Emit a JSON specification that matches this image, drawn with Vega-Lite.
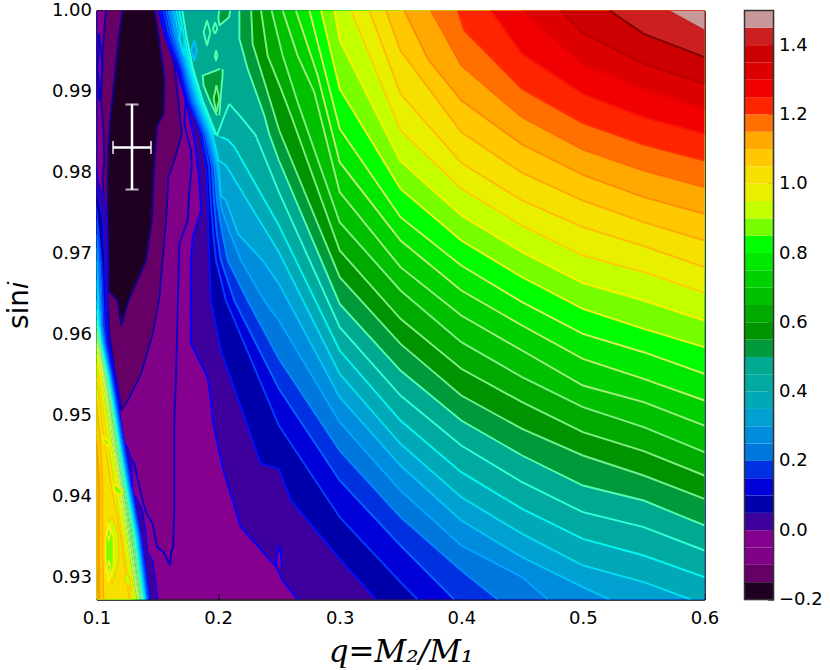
{
"$schema":"https://vega.github.io/schema/vega-lite/v6.json",
"description":"Contours of a fit statistic over mass ratio and inclination",
"padding":{"left":4.5,"top":1.5,"right":0,"bottom":0},
"background":"white",
"spacing":23,
"config":{"font":"DejaVu Sans","axis":{"grid":false,"labelFlush":false,"labelOverlap":false,"labelFont":"DejaVu Sans","labelFontSize":18,"labelColor":"#000","tickColor":"#000","domainColor":"#000","domainWidth":1.5,"tickWidth":1}},
"datasets":{
"low":[
{"id":"m10","level":"-0.10","edge":"-0.10","s":1.0,"q":0.1,"q2":0.1599},{"id":"m10","level":"-0.10","edge":"-0.10","s":0.993,"q":0.1,"q2":0.1668},{"id":"m10","level":"-0.10","edge":"-0.10","s":0.98971,"q":0.1,"q2":0.1736},{"id":"m10","level":"-0.10","edge":"-0.10","s":0.98600,"q":0.1,"q2":0.1723},{"id":"m10","level":"-0.10","edge":"-0.10","s":0.98271,"q":0.1,"q2":0.1777},{"id":"m10","level":"-0.10","edge":"-0.10","s":0.98065,"q":0.1,"q2":0.1783},{"id":"m10","level":"-0.10","edge":"-0.10","s":0.97777,"q":0.1,"q2":0.1764},{"id":"m10","level":"-0.10","edge":"-0.10","s":0.97407,"q":0.1,"q2":0.175},{"id":"m10","level":"-0.10","edge":"-0.10","s":0.97119,"q":0.1,"q2":0.1681},{"id":"m10","level":"-0.10","edge":"-0.10","s":0.95473,"q":0.1,"q2":0.1654},{"id":"m10","level":"-0.10","edge":"-0.10","s":0.94938,"q":0.1,"q2":0.164},{"id":"m10","level":"-0.10","edge":"-0.10","s":0.94671,"q":0.1202,"q2":0.164},{"id":"m10","level":"-0.10","edge":"-0.10","s":0.94403,"q":0.1311,"q2":0.164},{"id":"m10","level":"-0.10","edge":"-0.10","s":0.94032,"q":0.1366,"q2":0.164},{"id":"m10","level":"-0.10","edge":"-0.10","s":0.93806,"q":0.1407,"q2":0.164},{"id":"m10","level":"-0.10","edge":"-0.10","s":0.93662,"q":0.1462,"q2":0.1636},{"id":"m10","level":"-0.10","edge":"-0.10","s":0.93375,"q":0.1498,"q2":0.163},{"id":"m10","level":"-0.10","edge":"-0.10","s":0.93312,"q":0.1553,"q2":0.1613},{"id":"m10","level":"-0.10","edge":"-0.10","s":0.93148,"q":0.1605,"q2":0.1605},
{"id":"m15","level":"-0.15","edge":"-0.15","s":1.0,"q":0.1078,"q2":0.1544},{"id":"m15","level":"-0.15","edge":"-0.15","s":0.99506,"q":0.1051,"q2":0.1627},{"id":"m15","level":"-0.15","edge":"-0.15","s":0.98888,"q":0.1037,"q2":0.1673},{"id":"m15","level":"-0.15","edge":"-0.15","s":0.98477,"q":0.1059,"q2":0.1701},{"id":"m15","level":"-0.15","edge":"-0.15","s":0.98148,"q":0.1065,"q2":0.164},{"id":"m15","level":"-0.15","edge":"-0.15","s":0.97942,"q":0.1051,"q2":0.1591},{"id":"m15","level":"-0.15","edge":"-0.15","s":0.97407,"q":0.1065,"q2":0.1572},{"id":"m15","level":"-0.15","edge":"-0.15","s":0.96460,"q":0.1092,"q2":0.1517},{"id":"m15","level":"-0.15","edge":"-0.15","s":0.96008,"q":0.1106,"q2":0.1462},{"id":"m15","level":"-0.15","edge":"-0.15","s":0.95514,"q":0.1152,"q2":0.1366},{"id":"m15","level":"-0.15","edge":"-0.15","s":0.95185,"q":0.1196,"q2":0.1257},{"id":"m15","level":"-0.15","edge":"-0.15","s":0.95062,"q":0.1202,"q2":0.1202},
{"id":"m20","level":"-0.20","edge":"-0.20","s":1.0,"q":0.1215,"q2":0.1476},{"id":"m20","level":"-0.20","edge":"-0.20","s":0.99629,"q":0.118,"q2":0.1517},{"id":"m20","level":"-0.20","edge":"-0.20","s":0.99135,"q":0.1147,"q2":0.1558},{"id":"m20","level":"-0.20","edge":"-0.20","s":0.98724,"q":0.1119,"q2":0.1553},{"id":"m20","level":"-0.20","edge":"-0.20","s":0.98580,"q":0.1111,"q2":0.1498},{"id":"m20","level":"-0.20","edge":"-0.20","s":0.98148,"q":0.1092,"q2":0.1476},{"id":"m20","level":"-0.20","edge":"-0.20","s":0.97407,"q":0.1092,"q2":0.1454},{"id":"m20","level":"-0.20","edge":"-0.20","s":0.96913,"q":0.1098,"q2":0.1407},{"id":"m20","level":"-0.20","edge":"-0.20","s":0.96543,"q":0.1098,"q2":0.1298},{"id":"m20","level":"-0.20","edge":"-0.20","s":0.96419,"q":0.1174,"q2":0.1262},{"id":"m20","level":"-0.20","edge":"-0.20","s":0.96111,"q":0.1202,"q2":0.1202},
{"id":"ell","level":"-0.10","edge":"-0.10","s":0.99712,"q":0.102,"q2":0.102},{"id":"ell","level":"-0.10","edge":"-0.10","s":0.993,"q":0.101,"q2":0.1051},{"id":"ell","level":"-0.10","edge":"-0.10","s":0.98888,"q":0.102,"q2":0.102}
],
"main":[
{"level":"0.00","s":1.0,"q":0.151},{"level":"0.00","s":0.99712,"q":0.1558},{"level":"0.00","s":0.993,"q":0.1654},{"level":"0.00","s":0.98888,"q":0.1736},{"level":"0.00","s":0.98403,"q":0.1805},{"level":"0.00","s":0.97901,"q":0.1846},{"level":"0.00","s":0.9753,"q":0.186},{"level":"0.00","s":0.97201,"q":0.1791},{"level":"0.00","s":0.96913,"q":0.1777},{"level":"0.00","s":0.95884,"q":0.1777},{"level":"0.00","s":0.95473,"q":0.1914},{"level":"0.00","s":0.95185,"q":0.1941},{"level":"0.00","s":0.94938,"q":0.1956},{"level":"0.00","s":0.94362,"q":0.2037},{"level":"0.00","s":0.9395,"q":0.2119},{"level":"0.00","s":0.93621,"q":0.2188},{"level":"0.00","s":0.9323,"q":0.2421},{"level":"0.00","s":0.93127,"q":0.248},{"level":"0.00","s":0.92963,"q":0.2531},{"level":"0.00","s":0.92728,"q":0.2654},
{"level":"0.05","s":1.0,"q":0.1527},{"level":"0.05","s":0.99712,"q":0.1572},{"level":"0.05","s":0.993,"q":0.1681},{"level":"0.05","s":0.98888,"q":0.175},{"level":"0.05","s":0.98477,"q":0.186},{"level":"0.05","s":0.98065,"q":0.1901},{"level":"0.05","s":0.97654,"q":0.1915},{"level":"0.05","s":0.97242,"q":0.192},{"level":"0.05","s":0.96913,"q":0.1928},{"level":"0.05","s":0.96419,"q":0.1941},{"level":"0.05","s":0.95802,"q":0.2023},{"level":"0.05","s":0.94403,"q":0.2352},{"level":"0.05","s":0.94341,"q":0.25},{"level":"0.05","s":0.9395,"q":0.2599},{"level":"0.05","s":0.9323,"q":0.3},{"level":"0.05","s":0.92728,"q":0.3298},
{"level":"0.10","s":1.0,"q":0.1549},{"level":"0.10","s":0.99712,"q":0.1593},{"level":"0.10","s":0.993,"q":0.1695},{"level":"0.10","s":0.98888,"q":0.1765},{"level":"0.10","s":0.98477,"q":0.1875},{"level":"0.10","s":0.98065,"q":0.1925},{"level":"0.10","s":0.97654,"q":0.194},{"level":"0.10","s":0.97242,"q":0.196},{"level":"0.10","s":0.96913,"q":0.1983},{"level":"0.10","s":0.96419,"q":0.2065},{"level":"0.10","s":0.94876,"q":0.25},{"level":"0.10","s":0.93745,"q":0.3},{"level":"0.10","s":0.92942,"q":0.35},{"level":"0.10","s":0.92728,"q":0.3641},
{"level":"0.15","s":1.0,"q":0.1571},{"level":"0.15","s":0.99712,"q":0.1613},{"level":"0.15","s":0.993,"q":0.1709},{"level":"0.15","s":0.98888,"q":0.1781},{"level":"0.15","s":0.98477,"q":0.1891},{"level":"0.15","s":0.98065,"q":0.195},{"level":"0.15","s":0.97654,"q":0.1965},{"level":"0.15","s":0.97242,"q":0.199},{"level":"0.15","s":0.96913,"q":0.2024},{"level":"0.15","s":0.96419,"q":0.2133},{"level":"0.15","s":0.95329,"q":0.25},{"level":"0.15","s":0.94197,"q":0.3},{"level":"0.15","s":0.93395,"q":0.35},{"level":"0.15","s":0.92728,"q":0.3942},
{"level":"0.20","s":1.0,"q":0.1592},{"level":"0.20","s":0.99712,"q":0.1634},{"level":"0.20","s":0.993,"q":0.1722},{"level":"0.20","s":0.98888,"q":0.1796},{"level":"0.20","s":0.98477,"q":0.1906},{"level":"0.20","s":0.98065,"q":0.197},{"level":"0.20","s":0.97654,"q":0.199},{"level":"0.20","s":0.97242,"q":0.2035},{"level":"0.20","s":0.96913,"q":0.2079},{"level":"0.20","s":0.96419,"q":0.2243},{"level":"0.20","s":0.95699,"q":0.25},{"level":"0.20","s":0.94567,"q":0.3},{"level":"0.20","s":0.93745,"q":0.35},{"level":"0.20","s":0.93086,"q":0.4},{"level":"0.20","s":0.92728,"q":0.4299},
{"level":"0.25","s":1.0,"q":0.1614},{"level":"0.25","s":0.99712,"q":0.1654},{"level":"0.25","s":0.993,"q":0.1736},{"level":"0.25","s":0.98888,"q":0.1812},{"level":"0.25","s":0.98477,"q":0.1922},{"level":"0.25","s":0.98065,"q":0.199},{"level":"0.25","s":0.97572,"q":0.2024},{"level":"0.25","s":0.97242,"q":0.21},{"level":"0.25","s":0.96913,"q":0.2189},{"level":"0.25","s":0.96419,"q":0.238},{"level":"0.25","s":0.96172,"q":0.25},{"level":"0.25","s":0.94917,"q":0.3},{"level":"0.25","s":0.94074,"q":0.35},{"level":"0.25","s":0.93395,"q":0.4},{"level":"0.25","s":0.93004,"q":0.45},{"level":"0.25","s":0.92728,"q":0.471},
{"level":"0.30","s":1.0,"q":0.1636},{"level":"0.30","s":0.99712,"q":0.1675},{"level":"0.30","s":0.993,"q":0.175},{"level":"0.30","s":0.98888,"q":0.1827},{"level":"0.30","s":0.98477,"q":0.1937},{"level":"0.30","s":0.98065,"q":0.2005},{"level":"0.30","s":0.97716,"q":0.2024},{"level":"0.30","s":0.97654,"q":0.2065},{"level":"0.30","s":0.97242,"q":0.2165},{"level":"0.30","s":0.96913,"q":0.2367},{"level":"0.30","s":0.96625,"q":0.25},{"level":"0.30","s":0.95226,"q":0.3},{"level":"0.30","s":0.94382,"q":0.35},{"level":"0.30","s":0.93703,"q":0.4},{"level":"0.30","s":0.93251,"q":0.45},{"level":"0.30","s":0.9288,"q":0.5},{"level":"0.30","s":0.92728,"q":0.5217},
{"level":"0.35","s":1.0,"q":0.1659},{"level":"0.35","s":0.99712,"q":0.1695},{"level":"0.35","s":0.993,"q":0.1764},{"level":"0.35","s":0.98888,"q":0.1842},{"level":"0.35","s":0.98477,"q":0.1952},{"level":"0.35","s":0.98148,"q":0.2005},{"level":"0.35","s":0.98086,"q":0.2065},{"level":"0.35","s":0.97654,"q":0.224},{"level":"0.35","s":0.97016,"q":0.25},{"level":"0.35","s":0.95514,"q":0.3},{"level":"0.35","s":0.9465,"q":0.35},{"level":"0.35","s":0.93991,"q":0.4},{"level":"0.35","s":0.93539,"q":0.45},{"level":"0.35","s":0.93148,"q":0.5},{"level":"0.35","s":0.92942,"q":0.55},{"level":"0.35","s":0.92728,"q":0.5889},
{"level":"0.40","s":1.0,"q":0.1681},{"level":"0.40","s":0.99712,"q":0.1716},{"level":"0.40","s":0.993,"q":0.1777},{"level":"0.40","s":0.98888,"q":0.1858},{"level":"0.40","s":0.98477,"q":0.1968},{"level":"0.40","s":0.98403,"q":0.2079},{"level":"0.40","s":0.98312,"q":0.2136},{"level":"0.40","s":0.97345,"q":0.25},{"level":"0.40","s":0.95802,"q":0.3},{"level":"0.40","s":0.94938,"q":0.35},{"level":"0.40","s":0.943,"q":0.4},{"level":"0.40","s":0.93847,"q":0.45},{"level":"0.40","s":0.93477,"q":0.5},{"level":"0.40","s":0.93271,"q":0.55},{"level":"0.40","s":0.93004,"q":0.6},
{"level":"0.45","s":1.0,"q":0.1705},{"level":"0.45","s":0.99712,"q":0.1736},{"level":"0.45","s":0.993,"q":0.1791},{"level":"0.45","s":0.98888,"q":0.1873},{"level":"0.45","s":0.98477,"q":0.1983},{"level":"0.45","s":0.98456,"q":0.231},{"level":"0.45","s":0.97757,"q":0.25},{"level":"0.45","s":0.9609,"q":0.3},{"level":"0.45","s":0.95246,"q":0.35},{"level":"0.45","s":0.94629,"q":0.4},{"level":"0.45","s":0.94176,"q":0.45},{"level":"0.45","s":0.93806,"q":0.5},{"level":"0.45","s":0.93621,"q":0.55},{"level":"0.45","s":0.93333,"q":0.6},
{"level":"0.50","s":1.0,"q":0.2175},{"level":"0.50","s":0.9965,"q":0.2175},{"level":"0.50","s":0.99279,"q":0.2243},{"level":"0.50","s":0.98703,"q":0.238},{"level":"0.50","s":0.98477,"q":0.242},{"level":"0.50","s":0.98148,"q":0.25},{"level":"0.50","s":0.96378,"q":0.3},{"level":"0.50","s":0.95555,"q":0.35},{"level":"0.50","s":0.94938,"q":0.4},{"level":"0.50","s":0.94506,"q":0.45},{"level":"0.50","s":0.94135,"q":0.5},{"level":"0.50","s":0.9395,"q":0.55},{"level":"0.50","s":0.93642,"q":0.6},
{"level":"0.55","s":1.0,"q":0.2272},{"level":"0.55","s":0.99588,"q":0.2284},{"level":"0.55","s":0.99053,"q":0.2394},{"level":"0.55","s":0.98518,"q":0.2503},{"level":"0.55","s":0.96707,"q":0.3},{"level":"0.55","s":0.95884,"q":0.35},{"level":"0.55","s":0.95246,"q":0.4},{"level":"0.55","s":0.94835,"q":0.45},{"level":"0.55","s":0.94506,"q":0.5},{"level":"0.55","s":0.94259,"q":0.55},{"level":"0.55","s":0.93971,"q":0.6},
{"level":"0.60","s":1.0,"q":0.2353},{"level":"0.60","s":0.99444,"q":0.2407},{"level":"0.60","s":0.99032,"q":0.2517},{"level":"0.60","s":0.98703,"q":0.26},{"level":"0.60","s":0.97037,"q":0.3},{"level":"0.60","s":0.96193,"q":0.35},{"level":"0.60","s":0.95576,"q":0.4},{"level":"0.60","s":0.95164,"q":0.45},{"level":"0.60","s":0.94794,"q":0.5},{"level":"0.60","s":0.94559,"q":0.55},{"level":"0.60","s":0.94259,"q":0.6},
{"level":"0.65","s":1.0,"q":0.244},{"level":"0.65","s":0.99444,"q":0.2531},{"level":"0.65","s":0.98868,"q":0.2654},{"level":"0.65","s":0.97386,"q":0.3},{"level":"0.65","s":0.96543,"q":0.35},{"level":"0.65","s":0.95905,"q":0.4},{"level":"0.65","s":0.95473,"q":0.45},{"level":"0.65","s":0.95103,"q":0.5},{"level":"0.65","s":0.94855,"q":0.55},{"level":"0.65","s":0.94547,"q":0.6},
{"level":"0.70","s":1.0,"q":0.2531},{"level":"0.70","s":0.99444,"q":0.2654},{"level":"0.70","s":0.98991,"q":0.2791},{"level":"0.70","s":0.97757,"q":0.3},{"level":"0.70","s":0.96831,"q":0.35},{"level":"0.70","s":0.96234,"q":0.4},{"level":"0.70","s":0.95802,"q":0.45},{"level":"0.70","s":0.9537,"q":0.5},{"level":"0.70","s":0.95164,"q":0.55},{"level":"0.70","s":0.94876,"q":0.6},
{"level":"0.75","s":1.0,"q":0.264},{"level":"0.75","s":0.99197,"q":0.2819},{"level":"0.75","s":0.98127,"q":0.3},{"level":"0.75","s":0.9716,"q":0.35},{"level":"0.75","s":0.96543,"q":0.4},{"level":"0.75","s":0.96111,"q":0.45},{"level":"0.75","s":0.95699,"q":0.5},{"level":"0.75","s":0.95452,"q":0.55},{"level":"0.75","s":0.95185,"q":0.6},
{"level":"0.80","s":1.0,"q":0.2751},{"level":"0.80","s":0.98539,"q":0.3},{"level":"0.80","s":0.97448,"q":0.35},{"level":"0.80","s":0.96851,"q":0.4},{"level":"0.80","s":0.96399,"q":0.45},{"level":"0.80","s":0.96008,"q":0.5},{"level":"0.80","s":0.95781,"q":0.55},{"level":"0.80","s":0.95514,"q":0.6},
{"level":"0.85","s":1.0,"q":0.2846},{"level":"0.85","s":0.99032,"q":0.3},{"level":"0.85","s":0.97798,"q":0.35},{"level":"0.85","s":0.9716,"q":0.4},{"level":"0.85","s":0.96707,"q":0.45},{"level":"0.85","s":0.96317,"q":0.5},{"level":"0.85","s":0.96069,"q":0.55},{"level":"0.85","s":0.95843,"q":0.6},
{"level":"0.90","s":1.0,"q":0.2956},{"level":"0.90","s":0.99629,"q":0.3},{"level":"0.90","s":0.98139,"q":0.35},{"level":"0.90","s":0.97469,"q":0.4},{"level":"0.90","s":0.97016,"q":0.45},{"level":"0.90","s":0.96633,"q":0.5},{"level":"0.90","s":0.96419,"q":0.55},{"level":"0.90","s":0.96172,"q":0.6},
{"level":"0.95","s":1.0,"q":0.3093},{"level":"0.95","s":0.98518,"q":0.35},{"level":"0.95","s":0.97798,"q":0.4},{"level":"0.95","s":0.97345,"q":0.45},{"level":"0.95","s":0.96975,"q":0.5},{"level":"0.95","s":0.96769,"q":0.55},{"level":"0.95","s":0.96514,"q":0.6},
{"level":"1.00","s":1.0,"q":0.3244},{"level":"1.00","s":0.98971,"q":0.35},{"level":"1.00","s":0.98119,"q":0.4},{"level":"1.00","s":0.97654,"q":0.45},{"level":"1.00","s":0.97325,"q":0.5},{"level":"1.00","s":0.9709,"q":0.55},{"level":"1.00","s":0.96831,"q":0.6},
{"level":"1.05","s":1.0,"q":0.3381},{"level":"1.05","s":0.99506,"q":0.35},{"level":"1.05","s":0.98498,"q":0.4},{"level":"1.05","s":0.97995,"q":0.45},{"level":"1.05","s":0.97654,"q":0.5},{"level":"1.05","s":0.97386,"q":0.55},{"level":"1.05","s":0.9716,"q":0.6},
{"level":"1.10","s":1.0,"q":0.3532},{"level":"1.10","s":0.99403,"q":0.3724},{"level":"1.10","s":0.98888,"q":0.4},{"level":"1.10","s":0.98345,"q":0.45},{"level":"1.10","s":0.97971,"q":0.5},{"level":"1.10","s":0.97695,"q":0.55},{"level":"1.10","s":0.97489,"q":0.6},
{"level":"1.15","s":1.0,"q":0.3751},{"level":"1.15","s":0.99321,"q":0.4},{"level":"1.15","s":0.98683,"q":0.45},{"level":"1.15","s":0.98283,"q":0.5},{"level":"1.15","s":0.98024,"q":0.55},{"level":"1.15","s":0.97819,"q":0.6},
{"level":"1.20","s":1.0,"q":0.397},{"level":"1.20","s":0.99753,"q":0.4025},{"level":"1.20","s":0.99032,"q":0.45},{"level":"1.20","s":0.98609,"q":0.5},{"level":"1.20","s":0.98345,"q":0.55},{"level":"1.20","s":0.98148,"q":0.6},
{"level":"1.25","s":1.0,"q":0.4245},{"level":"1.25","s":0.99465,"q":0.45},{"level":"1.25","s":0.98971,"q":0.5},{"level":"1.25","s":0.98683,"q":0.55},{"level":"1.25","s":0.98477,"q":0.6},
{"level":"1.30","s":1.0,"q":0.4505},{"level":"1.30","s":0.99321,"q":0.5},{"level":"1.30","s":0.99032,"q":0.55},{"level":"1.30","s":0.98786,"q":0.6},
{"level":"1.35","s":1.0,"q":0.482},{"level":"1.35","s":0.99724,"q":0.5},{"level":"1.35","s":0.99341,"q":0.55},{"level":"1.35","s":0.99094,"q":0.6},
{"level":"1.40","s":1.0,"q":0.5218},{"level":"1.40","s":0.99712,"q":0.55},{"level":"1.40","s":0.99423,"q":0.6},
{"level":"1.45","s":1.0,"q":0.5698},{"level":"1.45","s":0.99753,"q":0.6}
],
"strip":[
{"level":"0.00","s":0.98065,"q":0.1},{"level":"0.00","s":0.97901,"q":0.101},{"level":"0.00","s":0.97654,"q":0.1065},{"level":"0.00","s":0.97407,"q":0.1087},{"level":"0.00","s":0.96831,"q":0.1092},{"level":"0.00","s":0.96111,"q":0.1092},{"level":"0.00","s":0.95884,"q":0.1106},{"level":"0.00","s":0.95473,"q":0.1152},{"level":"0.00","s":0.95185,"q":0.1188},{"level":"0.00","s":0.94691,"q":0.1196},{"level":"0.00","s":0.94609,"q":0.1257},{"level":"0.00","s":0.94424,"q":0.1292},{"level":"0.00","s":0.94032,"q":0.1298},{"level":"0.00","s":0.93991,"q":0.1325},{"level":"0.00","s":0.93827,"q":0.138},{"level":"0.00","s":0.93539,"q":0.1407},{"level":"0.00","s":0.93312,"q":0.1421},{"level":"0.00","s":0.9321,"q":0.1462},{"level":"0.00","s":0.92922,"q":0.149},{"level":"0.00","s":0.92728,"q":0.1503},
{"level":"0.05","s":0.97819,"q":0.1},{"level":"0.05","s":0.97407,"q":0.1051},{"level":"0.05","s":0.96831,"q":0.107},{"level":"0.05","s":0.96111,"q":0.1078},{"level":"0.05","s":0.95884,"q":0.1092},{"level":"0.05","s":0.95473,"q":0.1141},{"level":"0.05","s":0.95185,"q":0.1174},{"level":"0.05","s":0.94691,"q":0.1229},{"level":"0.05","s":0.94156,"q":0.1289},{"level":"0.05","s":0.93539,"q":0.1366},{"level":"0.05","s":0.92728,"q":0.1443},
{"level":"0.10","s":0.97572,"q":0.1},{"level":"0.10","s":0.96831,"q":0.1045},{"level":"0.10","s":0.96111,"q":0.1065},{"level":"0.10","s":0.95884,"q":0.1081},{"level":"0.10","s":0.95473,"q":0.1133},{"level":"0.10","s":0.95185,"q":0.1166},{"level":"0.10","s":0.94691,"q":0.1221},{"level":"0.10","s":0.94156,"q":0.1281},{"level":"0.10","s":0.93539,"q":0.1358},{"level":"0.10","s":0.92728,"q":0.1432},
{"level":"0.15","s":0.97407,"q":0.1},{"level":"0.15","s":0.96831,"q":0.1034},{"level":"0.15","s":0.96111,"q":0.1054},{"level":"0.15","s":0.95884,"q":0.1073},{"level":"0.15","s":0.95473,"q":0.1125},{"level":"0.15","s":0.95185,"q":0.1158},{"level":"0.15","s":0.94691,"q":0.1213},{"level":"0.15","s":0.94156,"q":0.1273},{"level":"0.15","s":0.93539,"q":0.135},{"level":"0.15","s":0.92728,"q":0.1421},
{"level":"0.20","s":0.97242,"q":0.1},{"level":"0.20","s":0.96831,"q":0.1024},{"level":"0.20","s":0.96111,"q":0.1045},{"level":"0.20","s":0.95884,"q":0.1065},{"level":"0.20","s":0.95473,"q":0.1119},{"level":"0.20","s":0.95185,"q":0.1152},{"level":"0.20","s":0.94691,"q":0.1204},{"level":"0.20","s":0.94156,"q":0.1265},{"level":"0.20","s":0.93539,"q":0.1342},{"level":"0.20","s":0.92728,"q":0.1413},
{"level":"0.25","s":0.97078,"q":0.1},{"level":"0.25","s":0.96111,"q":0.1037},{"level":"0.25","s":0.95884,"q":0.1056},{"level":"0.25","s":0.95473,"q":0.1114},{"level":"0.25","s":0.95185,"q":0.1147},{"level":"0.25","s":0.94691,"q":0.1199},{"level":"0.25","s":0.94156,"q":0.1259},{"level":"0.25","s":0.93539,"q":0.1336},{"level":"0.25","s":0.92728,"q":0.1407},
{"level":"0.30","s":0.96913,"q":0.1},{"level":"0.30","s":0.96111,"q":0.1029},{"level":"0.30","s":0.95884,"q":0.1051},{"level":"0.30","s":0.95473,"q":0.1109},{"level":"0.30","s":0.95185,"q":0.1141},{"level":"0.30","s":0.94691,"q":0.1193},{"level":"0.30","s":0.94156,"q":0.1254},{"level":"0.30","s":0.93539,"q":0.1331},{"level":"0.30","s":0.92728,"q":0.1402},
{"level":"0.35","s":0.96666,"q":0.1},{"level":"0.35","s":0.96111,"q":0.1024},{"level":"0.35","s":0.95884,"q":0.1045},{"level":"0.35","s":0.95473,"q":0.1103},{"level":"0.35","s":0.95185,"q":0.1136},{"level":"0.35","s":0.94691,"q":0.1188},{"level":"0.35","s":0.94156,"q":0.1248},{"level":"0.35","s":0.93539,"q":0.1325},{"level":"0.35","s":0.92728,"q":0.1396},
{"level":"0.40","s":0.96419,"q":0.1},{"level":"0.40","s":0.96111,"q":0.1018},{"level":"0.40","s":0.95884,"q":0.104},{"level":"0.40","s":0.95473,"q":0.1098},{"level":"0.40","s":0.95185,"q":0.113},{"level":"0.40","s":0.94691,"q":0.1183},{"level":"0.40","s":0.94156,"q":0.1243},{"level":"0.40","s":0.93539,"q":0.1317},{"level":"0.40","s":0.92728,"q":0.1388},
{"level":"0.45","s":0.96296,"q":0.1},{"level":"0.45","s":0.96111,"q":0.1013},{"level":"0.45","s":0.95884,"q":0.1035},{"level":"0.45","s":0.95473,"q":0.1092},{"level":"0.45","s":0.95185,"q":0.1125},{"level":"0.45","s":0.94691,"q":0.1177},{"level":"0.45","s":0.94156,"q":0.1237},{"level":"0.45","s":0.93539,"q":0.1311},{"level":"0.45","s":0.92728,"q":0.1383},
{"level":"0.50","s":0.96172,"q":0.1},{"level":"0.50","s":0.95884,"q":0.1029},{"level":"0.50","s":0.95473,"q":0.1087},{"level":"0.50","s":0.95185,"q":0.1119},{"level":"0.50","s":0.94691,"q":0.1172},{"level":"0.50","s":0.94156,"q":0.1229},{"level":"0.50","s":0.93539,"q":0.1306},{"level":"0.50","s":0.92728,"q":0.1377},
{"level":"0.55","s":0.96111,"q":0.1},{"level":"0.55","s":0.95884,"q":0.1024},{"level":"0.55","s":0.95473,"q":0.1081},{"level":"0.55","s":0.95185,"q":0.1114},{"level":"0.55","s":0.94691,"q":0.1166},{"level":"0.55","s":0.94156,"q":0.1221},{"level":"0.55","s":0.93539,"q":0.1298},{"level":"0.55","s":0.92728,"q":0.1372},
{"level":"0.60","s":0.96049,"q":0.1},{"level":"0.60","s":0.95884,"q":0.1021},{"level":"0.60","s":0.95473,"q":0.1076},{"level":"0.60","s":0.95185,"q":0.1109},{"level":"0.60","s":0.94691,"q":0.1161},{"level":"0.60","s":0.94156,"q":0.1215},{"level":"0.60","s":0.93539,"q":0.1289},{"level":"0.60","s":0.92728,"q":0.1366},
{"level":"0.65","s":0.96008,"q":0.1},{"level":"0.65","s":0.95884,"q":0.1015},{"level":"0.65","s":0.95473,"q":0.107},{"level":"0.65","s":0.95185,"q":0.11},{"level":"0.65","s":0.94691,"q":0.1152},{"level":"0.65","s":0.94156,"q":0.1207},{"level":"0.65","s":0.93539,"q":0.1278},{"level":"0.65","s":0.92728,"q":0.1358},
{"level":"0.70","s":0.95967,"q":0.1},{"level":"0.70","s":0.95884,"q":0.1013},{"level":"0.70","s":0.95473,"q":0.1065},{"level":"0.70","s":0.95185,"q":0.1095},{"level":"0.70","s":0.94691,"q":0.1147},{"level":"0.70","s":0.94156,"q":0.1202},{"level":"0.70","s":0.93539,"q":0.127},{"level":"0.70","s":0.92728,"q":0.1352},
{"level":"0.75","s":0.95925,"q":0.1},{"level":"0.75","s":0.95884,"q":0.1007},{"level":"0.75","s":0.95473,"q":0.1059},{"level":"0.75","s":0.95185,"q":0.1089},{"level":"0.75","s":0.94691,"q":0.1139},{"level":"0.75","s":0.94156,"q":0.1193},{"level":"0.75","s":0.93539,"q":0.1259},{"level":"0.75","s":0.92728,"q":0.1344},
{"level":"0.80","s":0.95884,"q":0.1},{"level":"0.80","s":0.95473,"q":0.1054},{"level":"0.80","s":0.95185,"q":0.1084},{"level":"0.80","s":0.94691,"q":0.113},{"level":"0.80","s":0.94156,"q":0.1188},{"level":"0.80","s":0.93539,"q":0.1251},{"level":"0.80","s":0.92728,"q":0.1339},
{"level":"0.85","s":0.95843,"q":0.1},{"level":"0.85","s":0.95473,"q":0.1045},{"level":"0.85","s":0.95185,"q":0.1073},{"level":"0.85","s":0.94691,"q":0.1119},{"level":"0.85","s":0.94156,"q":0.118},{"level":"0.85","s":0.93539,"q":0.124},{"level":"0.85","s":0.92728,"q":0.1325},
{"level":"0.90","s":0.95761,"q":0.1},{"level":"0.90","s":0.95473,"q":0.1037},{"level":"0.90","s":0.95185,"q":0.1059},{"level":"0.90","s":0.94691,"q":0.1106},{"level":"0.90","s":0.94156,"q":0.1169},{"level":"0.90","s":0.93539,"q":0.1229},{"level":"0.90","s":0.92728,"q":0.1311},
{"level":"0.95","s":0.95637,"q":0.1},{"level":"0.95","s":0.95473,"q":0.1021},{"level":"0.95","s":0.95185,"q":0.1043},{"level":"0.95","s":0.94691,"q":0.1087},{"level":"0.95","s":0.94156,"q":0.1147},{"level":"0.95","s":0.93539,"q":0.1207},{"level":"0.95","s":0.92728,"q":0.1289},
{"level":"1.00","s":0.95473,"q":0.1},{"level":"1.00","s":0.95185,"q":0.1026},{"level":"1.00","s":0.94691,"q":0.1065},{"level":"1.00","s":0.94156,"q":0.1119},{"level":"1.00","s":0.93539,"q":0.1196},{"level":"1.00","s":0.92728,"q":0.127},
{"level":"1.05","s":0.95185,"q":0.1},{"level":"1.05","s":0.94691,"q":0.1032},{"level":"1.05","s":0.94156,"q":0.1051},{"level":"1.05","s":0.93539,"q":0.1051},{"level":"1.05","s":0.92728,"q":0.1059},
{"level":"1.10","s":0.94691,"q":0.1},{"level":"1.10","s":0.94156,"q":0.1024},{"level":"1.10","s":0.93539,"q":0.1021},{"level":"1.10","s":0.92728,"q":0.1021}
],
"high":[
{"id":"peak","level":"0.40","edge":"0.45","s":0.98847,"q":0.2092,"q2":0.2092},{"id":"peak","level":"0.40","edge":"0.45","s":0.98683,"q":0.2047,"q2":0.2188},{"id":"peak","level":"0.40","edge":"0.45","s":0.98477,"q":0.1996,"q2":0.23},{"id":"peak","level":"0.40","edge":"0.45","s":0.98444,"q":0.1996,"q2":0.2315},
{"id":"spike","level":"-0.05","edge":"0.00","s":0.93395,"q":0.2503,"q2":0.2503},{"id":"spike","level":"-0.05","edge":"0.00","s":0.93251,"q":0.248,"q2":0.2519},{"id":"spike","level":"-0.05","edge":"0.00","s":0.93127,"q":0.248,"q2":0.2525},
{"id":"isa","level":"0.30","edge":"0.30","s":0.99629,"q":0.1804,"q2":0.1804},{"id":"isa","level":"0.30","edge":"0.30","s":0.99506,"q":0.1777,"q2":0.1826},{"id":"isa","level":"0.30","edge":"0.30","s":0.99382,"q":0.1804,"q2":0.1804},
{"id":"isb","level":"0.35","edge":"0.35","s":0.99814,"q":0.17,"q2":0.17},{"id":"isb","level":"0.35","edge":"0.35","s":0.99650,"q":0.1681,"q2":0.1722},{"id":"isb","level":"0.35","edge":"0.35","s":0.99444,"q":0.172,"q2":0.172},
{"id":"isd","level":"0.45","edge":"0.50","s":0.99876,"q":0.1909,"q2":0.1909},{"id":"isd","level":"0.45","edge":"0.50","s":0.99732,"q":0.1881,"q2":0.1936},{"id":"isd","level":"0.45","edge":"0.50","s":0.99567,"q":0.1909,"q2":0.1909},
{"id":"ise","level":"0.45","edge":"0.50","s":0.99856,"q":0.1974,"q2":0.1974},{"id":"ise","level":"0.45","edge":"0.50","s":0.99773,"q":0.1958,"q2":0.1994},{"id":"ise","level":"0.45","edge":"0.50","s":0.99712,"q":0.1974,"q2":0.1974},
{"id":"isf","level":"0.50","edge":"0.50","s":0.99506,"q":0.1983,"q2":0.1983},{"id":"isf","level":"0.50","edge":"0.50","s":0.99444,"q":0.1972,"q2":0.1994},{"id":"isf","level":"0.50","edge":"0.50","s":0.99382,"q":0.1983,"q2":0.1983},
{"id":"isg","level":"0.50","edge":"0.50","s":0.99279,"q":0.2017,"q2":0.2037},{"id":"isg","level":"0.50","edge":"0.50","s":0.99197,"q":0.1873,"q2":0.2037},{"id":"isg","level":"0.50","edge":"0.50","s":0.99074,"q":0.1881,"q2":0.2029},{"id":"isg","level":"0.50","edge":"0.50","s":0.98868,"q":0.1936,"q2":0.2018},{"id":"isg","level":"0.50","edge":"0.50","s":0.98703,"q":0.1991,"q2":0.201},
{"id":"ish","level":"0.55","edge":"0.55","s":0.99074,"q":0.1986,"q2":0.1986},{"id":"ish","level":"0.55","edge":"0.55","s":0.98909,"q":0.1963,"q2":0.201},{"id":"ish","level":"0.55","edge":"0.55","s":0.98744,"q":0.1986,"q2":0.1986},
{"id":"isi","level":"0.50","edge":"0.50","s":1.0,"q":0.201,"q2":0.21},{"id":"isi","level":"0.50","edge":"0.50","s":0.99917,"q":0.2002,"q2":0.209},{"id":"isi","level":"0.50","edge":"0.50","s":0.99814,"q":0.201,"q2":0.201},
{"id":"y1","level":"0.90","edge":"0.95","s":0.93765,"q":0.1123,"q2":0.1123},{"id":"y1","level":"0.90","edge":"0.95","s":0.93539,"q":0.1062,"q2":0.118},{"id":"y1","level":"0.90","edge":"0.95","s":0.9321,"q":0.1062,"q2":0.1185},{"id":"y1","level":"0.90","edge":"0.95","s":0.92922,"q":0.113,"q2":0.113},
{"id":"y2","level":"0.85","edge":"0.90","s":0.93683,"q":0.11,"q2":0.11},{"id":"y2","level":"0.85","edge":"0.90","s":0.93498,"q":0.1073,"q2":0.114},{"id":"y2","level":"0.85","edge":"0.90","s":0.93127,"q":0.1073,"q2":0.114},{"id":"y2","level":"0.85","edge":"0.90","s":0.92942,"q":0.11,"q2":0.11},
{"id":"y3","level":"0.80","edge":"0.85","s":0.93662,"q":0.11,"q2":0.11},{"id":"y3","level":"0.80","edge":"0.85","s":0.93539,"q":0.109,"q2":0.1115},{"id":"y3","level":"0.80","edge":"0.85","s":0.93457,"q":0.11,"q2":0.11},
{"id":"y4","level":"0.80","edge":"0.85","s":0.93210,"q":0.11,"q2":0.11},{"id":"y4","level":"0.80","edge":"0.85","s":0.93127,"q":0.109,"q2":0.1115},{"id":"y4","level":"0.80","edge":"0.85","s":0.92983,"q":0.11,"q2":0.11},
{"id":"y5","level":"0.90","edge":"0.95","s":0.93107,"q":0.124,"q2":0.124},{"id":"y5","level":"0.90","edge":"0.95","s":0.92963,"q":0.1226,"q2":0.128},{"id":"y5","level":"0.90","edge":"0.95","s":0.92839,"q":0.129,"q2":0.129},
{"id":"y6","level":"0.85","edge":"0.90","s":0.94156,"q":0.115,"q2":0.115},{"id":"y6","level":"0.85","edge":"0.90","s":0.94074,"q":0.114,"q2":0.121},{"id":"y6","level":"0.85","edge":"0.90","s":0.94012,"q":0.12,"q2":0.12},
{"id":"y7","level":"0.85","edge":"0.90","s":0.94753,"q":0.105,"q2":0.105},{"id":"y7","level":"0.85","edge":"0.90","s":0.94671,"q":0.106,"q2":0.11},{"id":"y7","level":"0.85","edge":"0.90","s":0.94609,"q":0.1095,"q2":0.1095}
],
"cross":[{"q":0.1292,"qlo":0.1136,"qhi":0.1448,"s":0.98309,"slo":0.9779,"shi":0.9884}],
"bar":[
{"level":"-0.20","lo":-0.2,"hi":-0.15},{"level":"-0.15","lo":-0.15,"hi":-0.1},{"level":"-0.10","lo":-0.1,"hi":-0.05},{"level":"-0.05","lo":-0.05,"hi":0},{"level":"0.00","lo":0,"hi":0.05},{"level":"0.05","lo":0.05,"hi":0.1},{"level":"0.10","lo":0.1,"hi":0.15},{"level":"0.15","lo":0.15,"hi":0.2},{"level":"0.20","lo":0.2,"hi":0.25},{"level":"0.25","lo":0.25,"hi":0.3},{"level":"0.30","lo":0.3,"hi":0.35},{"level":"0.35","lo":0.35,"hi":0.4},{"level":"0.40","lo":0.4,"hi":0.45},{"level":"0.45","lo":0.45,"hi":0.5},{"level":"0.50","lo":0.5,"hi":0.55},{"level":"0.55","lo":0.55,"hi":0.6},{"level":"0.60","lo":0.6,"hi":0.65},{"level":"0.65","lo":0.65,"hi":0.7},{"level":"0.70","lo":0.7,"hi":0.75},{"level":"0.75","lo":0.75,"hi":0.8},{"level":"0.80","lo":0.8,"hi":0.85},{"level":"0.85","lo":0.85,"hi":0.9},{"level":"0.90","lo":0.9,"hi":0.95},{"level":"0.95","lo":0.95,"hi":1},{"level":"1.00","lo":1,"hi":1.05},{"level":"1.05","lo":1.05,"hi":1.1},{"level":"1.10","lo":1.1,"hi":1.15},{"level":"1.15","lo":1.15,"hi":1.2},{"level":"1.20","lo":1.2,"hi":1.25},{"level":"1.25","lo":1.25,"hi":1.3},{"level":"1.30","lo":1.3,"hi":1.35},{"level":"1.35","lo":1.35,"hi":1.4},{"level":"1.40","lo":1.4,"hi":1.45},{"level":"1.45","lo":1.45,"hi":1.5}
]
},
"hconcat":[
{
"width":608,"height":589,
"view":{"fill":"#85008f","stroke":null},
"resolve":{"axis":{"x":"independent","y":"independent"}},
"encoding":{
"x":{"field":"q","type":"quantitative","stack":null,"scale":{"domain":[0.1,0.6],"nice":false,"zero":false},"axis":null},
"y":{"field":"s","type":"quantitative","stack":null,"scale":{"domain":[0.92728,1.0],"nice":false,"zero":false},"axis":null}
},
"layer":[
{"data":{"name":"low"},"mark":{"type":"area","orient":"horizontal","clip":true},
"encoding":{"x":{"field":"q","type":"quantitative","stack":null,"title":"q=M₂/M₁","axis":{"orient":"bottom","values":[0.1,0.2,0.3,0.4,0.5,0.6],"format":".1f","tickSize":-6,"labelPadding":16,"titleFont":"DejaVu Serif","titleFontStyle":"italic","titleFontWeight":"normal","titleFontSize":31,"titlePadding":10}},
"y":{"field":"s","type":"quantitative","stack":null,"title":"sin𝑖","axis":{"orient":"left","values":[0.93,0.94,0.95,0.96,0.97,0.98,0.99,1.0],"format":".2f","tickSize":-6,"labelPadding":11,"titleFontSize":28,"titleFontWeight":"normal","titlePadding":18}},
"x2":{"field":"q2"},"fill":{"field":"level","type":"nominal","legend":null,"scale":{"name":"bands","domain":["-0.20","-0.15","-0.10","-0.05","0.00","0.05","0.10","0.15","0.20","0.25","0.30","0.35","0.40","0.45","0.50","0.55","0.60","0.65","0.70","0.75","0.80","0.85","0.90","0.95","1.00","1.05","1.10","1.15","1.20","1.25","1.30","1.35","1.40","1.45"],"range":["#1f0020","#660066","#800088","#85008f","#3d009c","#0000aa","#0000d8","#0030e0","#0077dd","#008cdd","#00a0d0","#00a8b8","#00aaa0","#00aa90","#009a3a","#009400","#00aa00","#00c000","#00d000","#00e800","#00ff00","#77ff00","#c4ff00","#e8f000","#f5e000","#ffc800","#ffa800","#ff7000","#ff2400","#f00000","#dd0000","#cc0000","#cc2020","#c89898"]}},"detail":{"field":"id"}}},
{"data":{"name":"low"},"mark":{"type":"line","strokeWidth":1.9,"clip":true},"encoding":{"stroke":{"field":"edge","type":"nominal","legend":null,"scale":{"domain":["-0.20","-0.15","-0.10","-0.05","0.00","0.05","0.10","0.15","0.20","0.25","0.30","0.35","0.40","0.45","0.50","0.55","0.60","0.65","0.70","0.75","0.80","0.85","0.90","0.95","1.00","1.05","1.10","1.15","1.20","1.25","1.30","1.35","1.40","1.45"],"range":["#10008a","#1200a0","#0800c8","#0000e0","#0000ff","#0010ff","#0040ff","#0066ff","#0088ff","#00a4ff","#00c4f8","#00e0f0","#00f8f0","#30ffd8","#50ffb0","#70f090","#80f080","#80f080","#a0f080","#c0f070","#d8f060","#f0f020","#ffee00","#ffcc00","#ffbb00","#ffaa00","#ff8c00","#ff6a00","#ff3000","#f81000","#e80000","#b80000","#800000","#c02020"]}},"detail":{"field":"id"},"order":{"field":"s"}}},
{"data":{"name":"low"},"mark":{"type":"line","strokeWidth":1.9,"clip":true},"encoding":{"x":{"field":"q2","type":"quantitative","axis":null},"stroke":{"field":"edge","type":"nominal","legend":null},"detail":{"field":"id"},"order":{"field":"s"}}},
{"data":{"name":"main"},"mark":{"type":"area","orient":"horizontal","clip":true},"encoding":{"x2":{"datum":0.6},"fill":{"field":"level","type":"nominal","legend":null}}},
{"data":{"name":"main"},"mark":{"type":"line","strokeWidth":1.9,"clip":true},"encoding":{"stroke":{"field":"level","type":"nominal","legend":null},"order":{"field":"s"}}},
{"data":{"name":"strip"},"mark":{"type":"area","orient":"horizontal","clip":true},"encoding":{"x2":{"datum":0.1},"fill":{"field":"level","type":"nominal","legend":null}}},
{"data":{"name":"strip"},"mark":{"type":"line","strokeWidth":1.2,"clip":true},"encoding":{"stroke":{"field":"level","type":"nominal","legend":null},"order":{"field":"s"}}},
{"data":{"name":"high"},"mark":{"type":"area","orient":"horizontal","clip":true},"encoding":{"x2":{"field":"q2"},"fill":{"field":"level","type":"nominal","legend":null},"detail":{"field":"id"}}},
{"data":{"name":"high"},"mark":{"type":"line","strokeWidth":1.9,"clip":true},"encoding":{"stroke":{"field":"edge","type":"nominal","legend":null},"detail":{"field":"id"},"order":{"field":"s"}}},
{"data":{"name":"high"},"mark":{"type":"line","strokeWidth":1.9,"clip":true},"encoding":{"x":{"field":"q2","type":"quantitative","axis":null},"stroke":{"field":"edge","type":"nominal","legend":null},"detail":{"field":"id"},"order":{"field":"s"}}},
{"data":{"name":"cross"},"mark":{"type":"rule","color":"white","strokeWidth":2.5},"encoding":{"y":{"field":"slo","type":"quantitative","axis":null},"y2":{"field":"shi"}}},
{"data":{"name":"cross"},"mark":{"type":"rule","color":"white","strokeWidth":2.5},"encoding":{"x":{"field":"qlo","type":"quantitative","axis":null},"x2":{"field":"qhi"}}},
{"data":{"name":"cross"},"mark":{"type":"tick","orient":"horizontal","color":"white","size":13,"thickness":2},"encoding":{"y":{"field":"slo","type":"quantitative","axis":null}}},
{"data":{"name":"cross"},"mark":{"type":"tick","orient":"horizontal","color":"white","size":13,"thickness":2},"encoding":{"y":{"field":"shi","type":"quantitative","axis":null}}},
{"data":{"name":"cross"},"mark":{"type":"tick","orient":"vertical","color":"white","size":13,"thickness":2},"encoding":{"x":{"field":"qlo","type":"quantitative","axis":null}}},
{"data":{"name":"cross"},"mark":{"type":"tick","orient":"vertical","color":"white","size":13,"thickness":2},"encoding":{"x":{"field":"qhi","type":"quantitative","axis":null}}},
{"data":{"name":"cross"},"mark":{"type":"point","opacity":0},"encoding":{"x":{"field":"q","type":"quantitative","axis":{"orient":"top","values":[0.2,0.3,0.4,0.5],"labels":false,"title":null,"tickSize":-6}},"y":{"field":"s","type":"quantitative","axis":{"orient":"right","values":[0.93,0.94,0.95,0.96,0.97,0.98,0.99],"labels":false,"title":null,"tickSize":-6}}}}
]
},
{
"width":29,"height":589,
"data":{"name":"bar"},
"layer":[
{"mark":{"type":"rect"},"encoding":{"y":{"field":"lo","type":"quantitative","title":null,"scale":{"domain":[-0.2,1.5],"nice":false,"zero":false},"axis":{"orient":"right","values":[-0.2,0,0.2,0.4,0.6,0.8,1.0,1.2,1.4],"labelExpr":"replace(format(datum.value,'.1f'),'-','−')","tickSize":-6,"labelPadding":11,"domain":false}},"y2":{"field":"hi"},"fill":{"field":"level","type":"nominal","legend":null,"scale":{"domain":["-0.20","-0.15","-0.10","-0.05","0.00","0.05","0.10","0.15","0.20","0.25","0.30","0.35","0.40","0.45","0.50","0.55","0.60","0.65","0.70","0.75","0.80","0.85","0.90","0.95","1.00","1.05","1.10","1.15","1.20","1.25","1.30","1.35","1.40","1.45"],"range":["#1f0020","#660066","#800088","#85008f","#3d009c","#0000aa","#0000d8","#0030e0","#0077dd","#008cdd","#00a0d0","#00a8b8","#00aaa0","#00aa90","#009a3a","#009400","#00aa00","#00c000","#00d000","#00e800","#00ff00","#77ff00","#c4ff00","#e8f000","#f5e000","#ffc800","#ffa800","#ff7000","#ff2400","#f00000","#dd0000","#cc0000","#cc2020","#c89898"]}}}},
{"data":{"values":[{"lo":-0.2,"hi":1.5}]},"mark":{"type":"rect","fillOpacity":0,"stroke":"#333","strokeWidth":1.5},"encoding":{"y":{"field":"lo","type":"quantitative"},"y2":{"field":"hi"}}}
]
}
]
}
